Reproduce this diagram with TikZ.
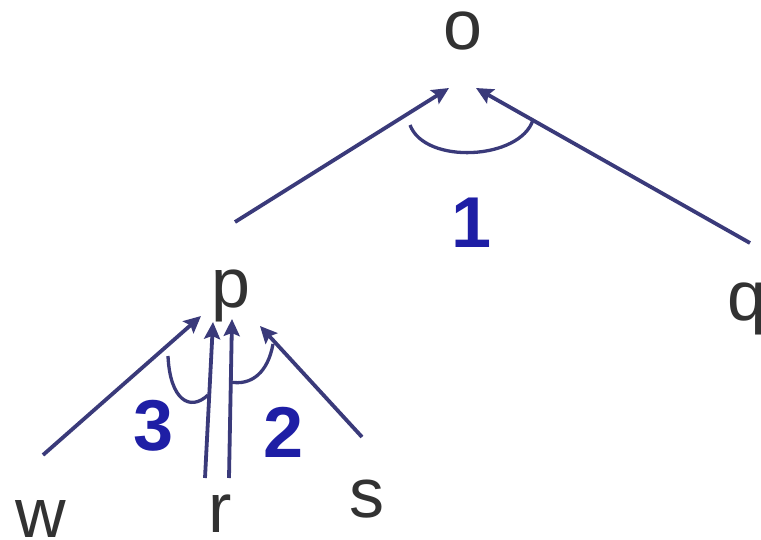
\documentclass[tikz,border=0pt]{standalone}
\usepackage{fontspec}
\setmainfont{Liberation Sans}
\usetikzlibrary{arrows.meta}
\definecolor{edgecol}{RGB}{58,58,122}
\definecolor{lettercol}{RGB}{50,50,50}
\definecolor{numcol}{RGB}{30,30,165}
\tikzset{
  letter/.style={inner sep=0pt, anchor=base, text=lettercol, font=\fontsize{70}{84}\selectfont},
  numlabel/.style={inner sep=0pt, anchor=base, text=numcol, font=\fontsize{72}{86}\selectfont\bfseries},
  edge/.style={draw=edgecol, line width=3.8pt, -{Stealth[length=17pt,width=16pt,inset=3pt]}},
  bracket/.style={draw=edgecol, line width=3.3pt}
}
\begin{document}
\begin{tikzpicture}[x=1pt,y=-1pt]
\useasboundingbox[fill=white] (0,0) rectangle (761,539);
% letters
\node[letter] (o) at (463,49) {o};
\node[letter] (p) at (231,307) {p};
\node[letter] (q) at (747,320) {q};
\node[letter] (w) at (41,537) {w};
\node[letter] (r) at (220,532) {r};
\node[letter] (s) at (367,517) {s};
% numbers
\node[numlabel] (n1) at (472,247) {1};
\node[numlabel] (n3) at (154,450) {3};
\node[numlabel] (n2) at (284,457) {2};
% connector endpoints
\coordinate (po0) at (235,222);
\coordinate (po1) at (449,88);
\coordinate (qo0) at (750,243);
\coordinate (qo1) at (476,88);
\coordinate (wp0) at (43,455);
\coordinate (wp1) at (201,316);
\coordinate (rpa0) at (205,478);
\coordinate (rpa1) at (213,322);
\coordinate (rpb0) at (229,478);
\coordinate (rpb1) at (232,319);
\coordinate (sp0) at (362,437);
\coordinate (sp1) at (260,326);
% edges
\draw[edge] (po0) -- (po1);
\draw[edge] (qo0) -- (qo1);
\draw[edge] (wp0) -- (wp1);
\draw[edge] (rpa0) -- (rpa1);
\draw[edge] (rpb0) -- (rpb1);
\draw[edge] (sp0) -- (sp1);
% arcs
\coordinate (a1s) at (410,125);
\coordinate (a1e) at (533,120);
\draw[bracket] (a1s) .. controls (425,165) and (520,160) .. (a1e);
\coordinate (a3s) at (168,356);
\coordinate (a3e) at (208,395);
\draw[bracket] (a3s) .. controls (170,400) and (190,412) .. (a3e);
\coordinate (a2s) at (230,382);
\coordinate (a2e) at (273,344);
\draw[bracket] (a2s) .. controls (252,386) and (268,372) .. (a2e);
\end{tikzpicture}
\end{document}
